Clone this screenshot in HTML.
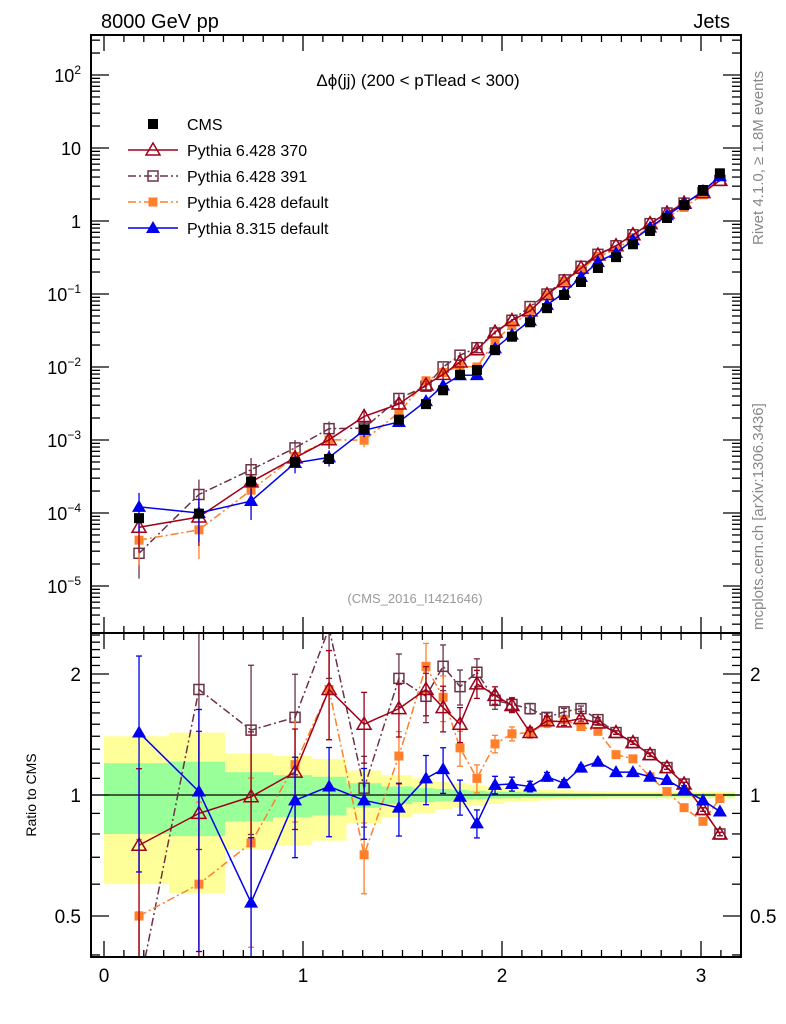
<!DOCTYPE html>
<html><head><meta charset="utf-8">
<style>
html,body{margin:0;padding:0;background:#fff;overflow:hidden;width:786px;height:1024px;}
svg{display:block;}
svg text{font-family:"Liberation Sans",sans-serif;}
</style></head>
<body>
<svg id="chart" width="786" height="1024" viewBox="0 0 786 1024" xmlns="http://www.w3.org/2000/svg">
<rect x="0" y="0" width="786" height="1024" fill="#fff"/>
<g id="bands"></g>
<g id="marks"></g>
<g id="axes"></g>
<text x="101" y="28" font-size="20">8000 GeV pp</text>
<text x="730" y="28" font-size="20" text-anchor="end">Jets</text>
<text x="418" y="86" font-size="17" text-anchor="middle">Δϕ(jj) (200 &lt; pTlead &lt;  300)</text>
<text x="415" y="603" font-size="13" fill="#999" text-anchor="middle">(CMS_2016_I1421646)</text>
<text transform="translate(763,245) rotate(-90)" font-size="15" fill="#888">Rivet 4.1.0, ≥ 1.8M events</text>
<text transform="translate(763,630) rotate(-90)" font-size="15" fill="#888">mcplots.cern.ch [arXiv:1306.3436]</text>
<text transform="translate(36,795) rotate(-90)" font-size="14" text-anchor="middle">Ratio to CMS</text>
<g id="legend"></g>
</svg>
<script>
const xs=[0.176,0.477,0.739,0.960,1.131,1.307,1.482,1.618,1.704,1.789,1.874,1.965,2.050,2.141,2.226,2.312,2.397,2.482,2.573,2.658,2.744,2.829,2.915,3.010,3.095];
const cms=[8.5e-5,9.8e-5,2.7e-4,5e-4,5.5e-4,1.4e-3,1.9e-3,3.1e-3,4.8e-3,7.8e-3,9.1e-3,1.7e-2,2.6e-2,4.1e-2,6.4e-2,9.7e-2,0.146,0.227,0.32,0.48,0.73,1.1,1.65,2.66,4.5];
const r370=[0.75,0.90,0.99,1.14,1.83,1.50,1.64,1.83,1.65,1.50,1.89,1.77,1.67,1.43,1.53,1.52,1.55,1.51,1.43,1.35,1.26,1.17,1.065,0.92,0.80];
const r391=[0.33,1.83,1.45,1.56,2.6,1.04,1.95,1.76,2.09,1.86,2.02,1.72,1.68,1.64,1.56,1.61,1.64,1.54,1.43,1.35,1.26,1.17,1.065,0.92,0.80];
const rdef=[0.50,0.60,0.76,1.19,1.83,0.71,1.25,2.09,1.75,1.31,1.10,1.34,1.42,1.43,1.51,1.54,1.48,1.44,1.26,1.23,1.11,1.02,0.93,0.86,0.98];
const rp8=[1.43,1.02,0.54,0.97,1.05,0.97,0.93,1.10,1.16,0.99,0.85,1.06,1.065,1.05,1.11,1.07,1.17,1.21,1.14,1.14,1.11,1.09,1.03,0.97,0.91];
const relErr=[0.55,0.6,0.45,0.28,0.25,0.2,0.15,0.14,0.13,0.1,0.08,0.05,0.04,0.03,0.025,0.02,0.015,0.012,0.01,0.01,0.01,0.01,0.01,0.01,0.01];
const yellowHalf=[0.40,0.43,0.27,0.25,0.23,0.15,0.12,0.10,0.08,0.07,0.06,0.05,0.04,0.035,0.03,0.028,0.025,0.022,0.02,0.02,0.02,0.02,0.02,0.02,0.02];
const greenHalf=[0.20,0.21,0.14,0.12,0.11,0.07,0.05,0.04,0.035,0.03,0.025,0.02,0.018,0.015,0.013,0.012,0.011,0.01,0.009,0.009,0.009,0.009,0.009,0.009,0.009];
const xTicks=[0,1,2,3];
const mainTicks=[-5,-4,-3,-2,-1,0,1,2];
const mainTickLabels=["10<tspan dy='-8' font-size='12'>−5</tspan>","10<tspan dy='-8' font-size='12'>−4</tspan>","10<tspan dy='-8' font-size='12'>−3</tspan>","10<tspan dy='-8' font-size='12'>−2</tspan>","10<tspan dy='-8' font-size='12'>−1</tspan>","1","10","10<tspan dy='-8' font-size='12'>2</tspan>"];
const ratioTicks=[0.5,1,2];
const ratioTickLabels=["0.5","1","2"];

const NS="http://www.w3.org/2000/svg";
const L=91,R=741,MT=35,MB=633,RT=633,RB=957;
const X=v=>104+v*199;
const YM=v=>221-Math.log10(v)*73;
const YR=v=>795-Math.log10(v)*402;
function mk(tag,attrs,parent){const e=document.createElementNS(NS,tag);for(const k in attrs)e.setAttribute(k,attrs[k]);parent.appendChild(e);return e;}
const svg=document.getElementById('chart');
const bands=document.getElementById('bands'),marks=document.getElementById('marks'),axes=document.getElementById('axes'),leg=document.getElementById('legend');

const edges=[0];for(let i=0;i<xs.length-1;i++)edges.push((xs[i]+xs[i+1])/2);edges.push(3.17);
for(let i=0;i<xs.length;i++){
  const y=mk('rect',{x:X(edges[i]),y:YR(1+yellowHalf[i]),width:X(edges[i+1])-X(edges[i]),height:YR(1-yellowHalf[i])-YR(1+yellowHalf[i]),fill:'#ffff99'},bands);
  
  
  const g=mk('rect',{x:X(edges[i]),y:YR(1+greenHalf[i]),width:X(edges[i+1])-X(edges[i]),height:YR(1-greenHalf[i])-YR(1+greenHalf[i]),fill:'#99ff99'},bands);
  
  
}

const defs=mk('defs',{},svg);
const clipM=mk('clipPath',{id:'cm'},defs);mk('rect',{x:L,y:MT,width:R-L,height:MB-MT},clipM);
const clipR=mk('clipPath',{id:'cr'},defs);mk('rect',{x:L,y:RT,width:R-L,height:RB-RT},clipR);
const gm=mk('g',{'clip-path':'url(#cm)'},marks);
const gr=mk('g',{'clip-path':'url(#cr)'},marks);
mk('line',{x1:L,x2:R,y1:YR(1),y2:YR(1),stroke:'#000','stroke-width':1.3},gr);

function marker(type,color,x,y,p){
  let e;
  if(type==='sqf')e=mk('rect',{x:x-5,y:y-5,width:10,height:10,fill:color},p);
  if(type==='sqs')e=mk('rect',{x:x-4.5,y:y-4.5,width:9,height:9,fill:color},p);
  if(type==='sqo')e=mk('rect',{x:x-5,y:y-5,width:10,height:10,fill:'none',stroke:color,'stroke-width':1.5},p);
  if(type==='tro')e=mk('polygon',{points:`${x},${y-7} ${x-7},${y+5} ${x+7},${y+5}`,fill:'none',stroke:color,'stroke-width':1.5},p);
  if(type==='trf')e=mk('polygon',{points:`${x},${y-7} ${x-7},${y+5} ${x+7},${y+5}`,fill:color},p);
  return e;
}
const series=[
 {name:'pythia-6428-391',r:r391,color:'#6b3246',dash:'8,3,2,3',m:'sqo',label:'Pythia 6.428 391'},
 {name:'pythia-6428-default',r:rdef,color:'#ff7f2a',dash:'8,3,2,3',m:'sqs',label:'Pythia 6.428 default'},
 {name:'pythia-6428-370',r:r370,color:'#a0001a',dash:'',m:'tro',label:'Pythia 6.428 370'},
 {name:'pythia-8315-default',r:rp8,color:'#0000ee',dash:'',m:'trf',label:'Pythia 8.315 default'}
];
series.forEach(s=>{
  const ptsM=xs.map((x,i)=>X(x)+','+YM(cms[i]*s.r[i])).join(' ');
  const ptsR=xs.map((x,i)=>X(x)+','+YR(s.r[i])).join(' ');
  const lm=mk('polyline',{points:ptsM,fill:'none',stroke:s.color,'stroke-width':1.5,'stroke-dasharray':s.dash||'none'},gm);
  
  
  const lr=mk('polyline',{points:ptsR,fill:'none',stroke:s.color,'stroke-width':1.5,'stroke-dasharray':s.dash||'none'},gr);
  
  
  xs.forEach((x,i)=>{
    const v=s.r[i],e=relErr[i]*v,px=X(x);
    const yt=YR(v+e),yb=YR(Math.max(v-e,0.01));
    mk('line',{x1:px,x2:px,y1:yt,y2:yb,stroke:s.color,'stroke-width':1.3},gr);
    mk('line',{x1:px-3,x2:px+3,y1:yt,y2:yt,stroke:s.color,'stroke-width':1.3},gr);
    mk('line',{x1:px-3,x2:px+3,y1:yb,y2:yb,stroke:s.color,'stroke-width':1.3},gr);
    mk('line',{x1:px,x2:px,y1:YM(cms[i]*(v+e)),y2:YM(cms[i]*Math.max(v-e,1e-4)),stroke:s.color,'stroke-width':1.3},gm);
    const a=marker(s.m,s.color,px,YR(v),gr);
    
    
    const b=marker(s.m,s.color,px,YM(cms[i]*v),gm);
    
    
  });
});
xs.forEach((x,i)=>{
  const c=marker('sqf','#000',X(x),YM(cms[i]),gm);
  
  
});

mk('rect',{x:L,y:MT,width:R-L,height:MB-MT,fill:'none',stroke:'#000','stroke-width':2},axes);
mk('rect',{x:L,y:RT,width:R-L,height:RB-RT,fill:'none',stroke:'#000','stroke-width':2},axes);
for(let k=0;k<=32;k++){
  const t=k/10,major=(k%10===0),len=major?16:7,px=X(t);
  if(px>R)continue;
  [[MT,1],[RT,1],[MB,-1],[RB,-1]].forEach(([y,d])=>mk('line',{x1:px,x2:px,y1:y,y2:y+d*len,stroke:'#000','stroke-width':1.3},axes));
}
xTicks.forEach(t=>{const e=mk('text',{x:X(t),y:982,'font-size':19,'text-anchor':'middle'},axes);e.textContent=t;
  
  });
for(let d=-6;d<=2;d++){for(let k=1;k<=9;k++){const v=k*Math.pow(10,d),y=YM(v);if(y<MT||y>MB)continue;
  const len=k===1?18:9;mk('line',{x1:L,x2:L+len,y1:y,y2:y,stroke:'#000','stroke-width':1.3},axes);mk('line',{x1:R,x2:R-len,y1:y,y2:y,stroke:'#000','stroke-width':1.3},axes);}}
mainTicks.forEach((d,i)=>{const e=mk('text',{x:81,y:YM(Math.pow(10,d))+7,'font-size':18,'text-anchor':'end'},axes);e.innerHTML=mainTickLabels[i];
  
  });
for(let k=4;k<=25;k++){const v=k/10,y=YR(v);if(y<RT||y>RB)continue;const maj=(k===5||k===10||k===20);const len=maj?18:9;
  mk('line',{x1:L,x2:L+len,y1:y,y2:y,stroke:'#000','stroke-width':1.3},axes);mk('line',{x1:R,x2:R-len,y1:y,y2:y,stroke:'#000','stroke-width':1.3},axes);}
ratioTicks.forEach((v,i)=>{[[81,'end'],[750,'start']].forEach(([x,a])=>{const e=mk('text',{x:x,y:YR(v)+7,'font-size':19,'text-anchor':a},axes);e.textContent=ratioTickLabels[i];
  
  });});

const legItems=[{m:'sqf',color:'#000',dash:null,label:'CMS'}].concat([series[2],series[0],series[1],series[3]].map(s=>({m:s.m,color:s.color,dash:s.dash,label:s.label})));
legItems.forEach((it,i)=>{const y=124+i*26;
  const g=mk('g',{},leg);
  
  
  if(it.dash!==null)mk('line',{x1:128,x2:178,y1:y,y2:y,stroke:it.color,'stroke-width':1.5,'stroke-dasharray':it.dash||'none'},g);
  marker(it.m,it.color,153,y,g);
  const t=mk('text',{x:187,y:y+6,'font-size':16},g);t.textContent=it.label;});
</script>
</body></html>
